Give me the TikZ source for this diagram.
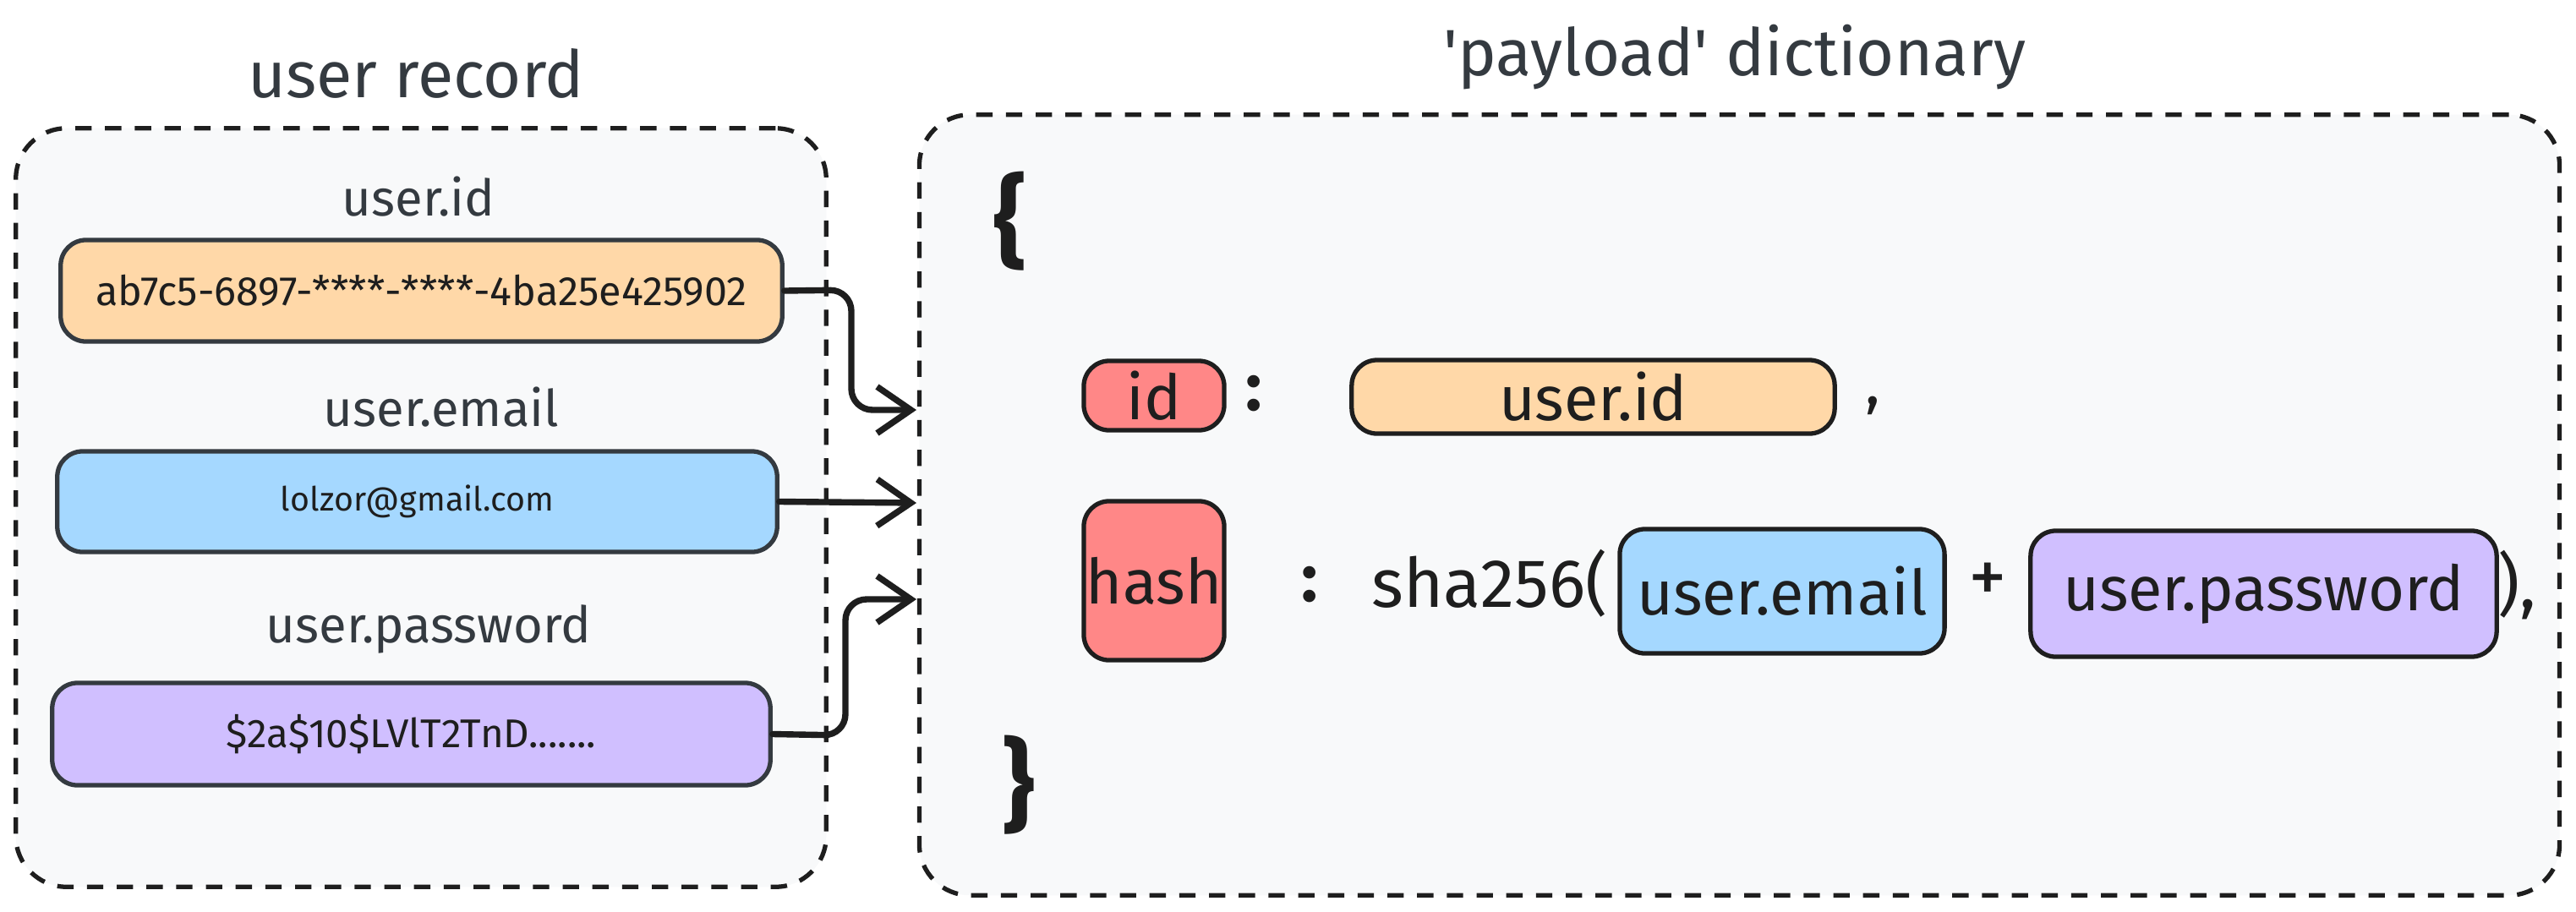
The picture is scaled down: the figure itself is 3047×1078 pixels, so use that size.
\documentclass[tikz,border=0pt]{standalone}
\usepackage{fontspec}
\setmainfont{Fira Sans}
\usetikzlibrary{arrows.meta}
\definecolor{ink}{HTML}{1E1E1E}
\definecolor{slate}{HTML}{343A40}
\definecolor{bgc}{HTML}{F8F9FA}
\definecolor{orng}{HTML}{FFD8A8}
\definecolor{blu}{HTML}{A5D8FF}
\definecolor{purp}{HTML}{D0BFFF}
\definecolor{redc}{HTML}{FF8787}
\begin{document}
\begin{tikzpicture}[x=0.01cm,y=-0.01cm,
  container/.style={draw=ink, fill=bgc, line width=1.5pt, dash pattern=on 5.5pt off 4.5pt, rounded corners=0.6cm, inner sep=0pt},
  valbox/.style={draw=slate, line width=1.5pt, rounded corners=0.3cm, inner sep=0pt, text=ink},
  keybox/.style={draw=ink, fill=redc, line width=1.5pt, rounded corners=0.3cm, inner sep=0pt, text=ink, font=\fontsize{21}{25}\selectfont},
  title/.style={text=slate, font=\fontsize{22}{26}\selectfont},
  fieldlbl/.style={text=slate, font=\fontsize{17}{20}\selectfont},
  bigtxt/.style={text=ink, font=\fontsize{21}{25}\selectfont},
  brace/.style={text=ink, font=\fontsize{34}{40}\bfseries\selectfont},
  conn/.style={draw=ink, line width=2.1pt, line cap=round, rounded corners=0.25cm, -{Straight Barb[length=0.4cm, width=0.55cm, line width=2.1pt]}}
]
\useasboundingbox (0,0) rectangle (3047,1078);
\fill[white] (0,0) rectangle (3047,1078);

% containers
\node[container, minimum width=9.58cm, minimum height=8.97cm] (rec) at (498,600.5) {};
\node[container, minimum width=19.39cm, minimum height=9.23cm] (dict) at (2057.5,597.5) {};

% titles
\node[title] (t1) at (492,87) {user record};
\node[title] (t2) at (2052,68) {\textquotesingle payload\textquotesingle{} dictionary};

% left side
\node[fieldlbl] (l1) at (495,233) {user.id};
\node[valbox, fill=orng, font=\fontsize{13.8}{16}\selectfont, minimum width=8.53cm, minimum height=1.2cm] (o1) at (498.5,344) {ab7c5-6897-****-****-4ba25e425902};
\node[fieldlbl] (l2) at (522,482) {user.email};
\node[valbox, fill=blu, font=\fontsize{11.2}{14}\selectfont, minimum width=8.51cm, minimum height=1.19cm] (b1) at (493.5,593.5) {lolzor@gmail.com};
\node[fieldlbl] (l3) at (507,744) {user.password};
\node[valbox, fill=purp, font=\fontsize{13.5}{16}\selectfont, minimum width=8.49cm, minimum height=1.21cm] (p1) at (486.5,868.5) {\$2a\$10\$LVlT2TnD.......};

% right side
\node[brace] (ob) at (1195,262) {\{};
\node[keybox, minimum width=1.66cm, minimum height=0.82cm] (kid) at (1365,468) {id};
\node[bigtxt, font=\fontsize{23}{27}\bfseries\selectfont] (c1) at (1483,466) {:};
\node[valbox, draw=ink, fill=orng, bigtxt, minimum width=5.71cm, minimum height=0.87cm] (o2) at (1884.5,469.5) {user.id};
\node[bigtxt] (cm) at (2215,480) {,};
\node[keybox, minimum width=1.66cm, minimum height=1.88cm] (khash) at (1365,687) {hash};
\node[bigtxt, font=\fontsize{23}{27}\bfseries\selectfont] (c2) at (1549,692) {:};
\node[bigtxt, font=\fontsize{23}{27}\selectfont] (sha) at (1762,690) {sha256(};
\node[valbox, draw=ink, fill=blu, bigtxt, minimum width=3.84cm, minimum height=1.47cm] (b2) at (2108,699.5) {user.email};
\node[bigtxt, font=\fontsize{26}{30}\selectfont] (pl) at (2351,690) {+};
\node[valbox, draw=ink, fill=purp, bigtxt, minimum width=5.51cm, minimum height=1.49cm] (p2) at (2677.5,702.5) {user.password};
\node[bigtxt, font=\fontsize{23}{27}\selectfont] (cl) at (2977,692) {),};
\node[brace] (cb) at (1205,929) {\}};

% connector ends
\coordinate (e1) at (1084,485);
\coordinate (e2) at (1084,595);
\coordinate (e3) at (1084,709);

\draw[conn] (o1.east) -- (1007,343) -- (1007,485) -- (e1);
\draw[conn] (b1.east) -- (e2);
\draw[conn] (p1.east) -- (1000,870) -- (1000,709) -- (e3);
\end{tikzpicture}
\end{document}
